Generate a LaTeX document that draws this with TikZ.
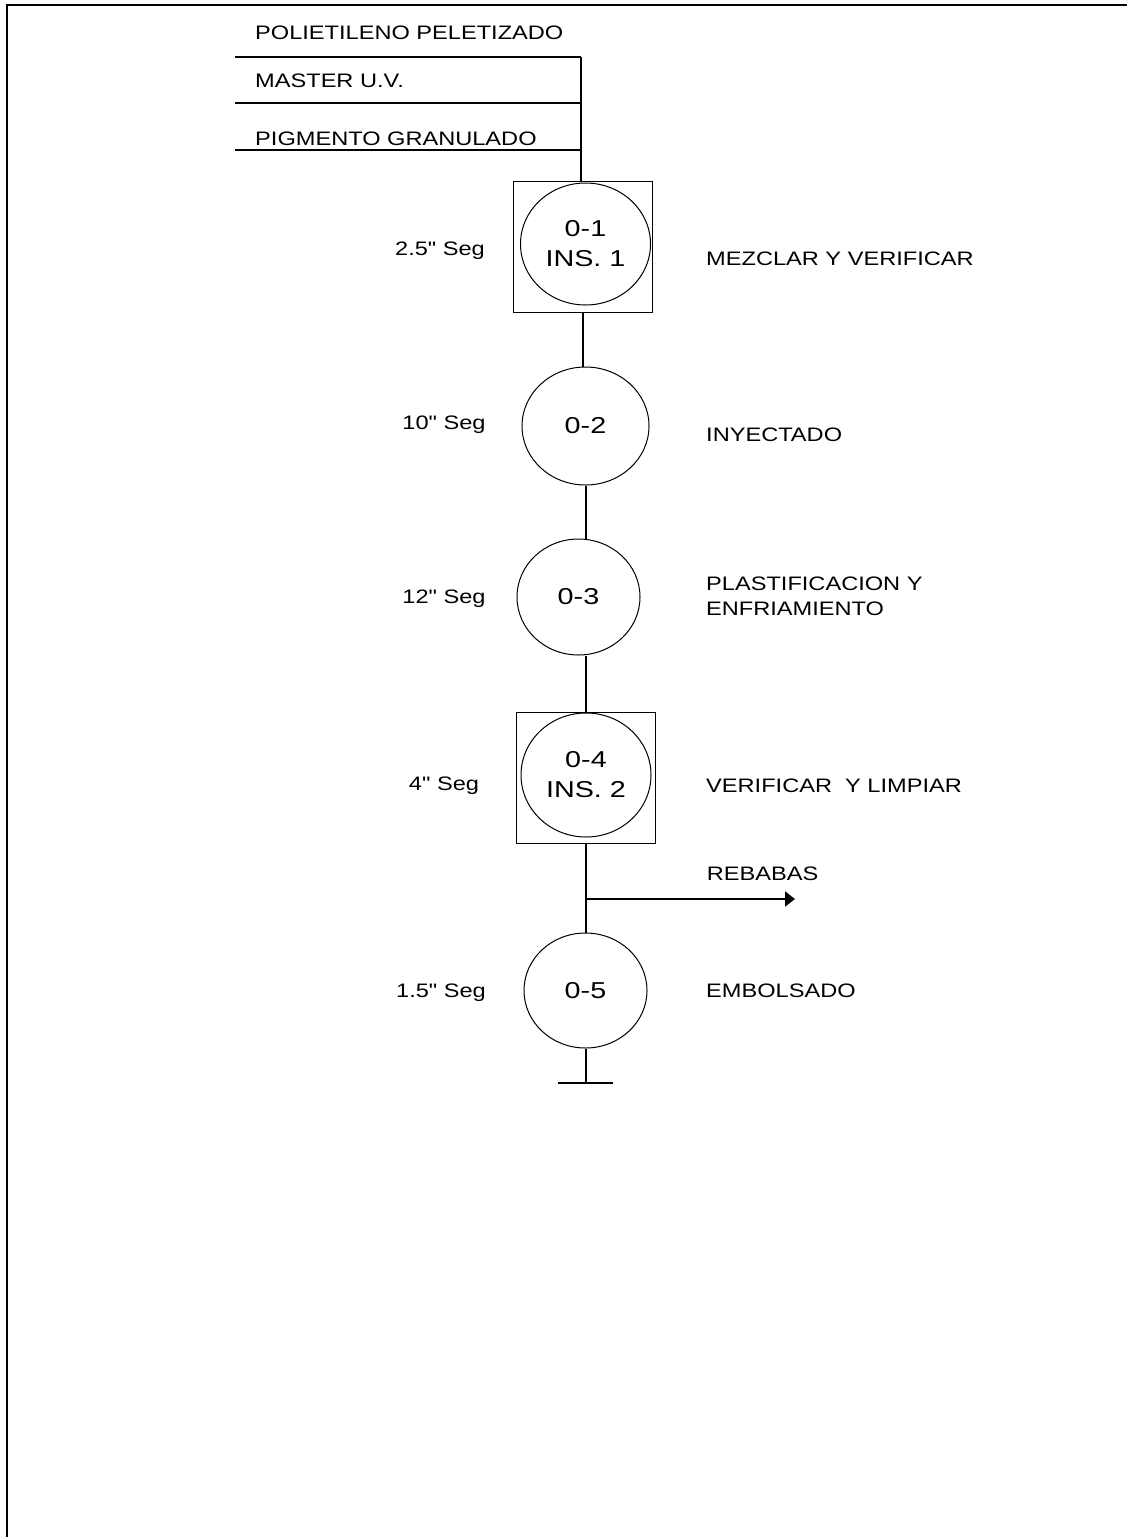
\documentclass[tikz,border=0pt]{standalone}
\usepackage{fontspec}
\usetikzlibrary{shapes.geometric,arrows.meta}
\newfontfamily\labfont[FakeStretch=1.21]{Liberation Sans}
\newfontfamily\numfont[FakeStretch=1.25]{Liberation Sans}
\begin{document}
\begin{tikzpicture}[x=1pt,y=-1pt,
  frameline/.style={line width=2.3pt},
  feed/.style={line width=1.7pt},
  link/.style={line width=2pt},
  outarrow/.style={line width=2pt,-{Triangle[length=10pt,width=15pt]}},
  boxnode/.style={draw,line width=1pt,rectangle,inner sep=0pt},
  opnode/.style={draw,line width=1pt,ellipse,inner sep=0pt,align=center,
    font=\numfont\fontsize{23}{30}\selectfont},
  lab/.style={font=\labfont\fontsize{19.5}{25}\selectfont,inner sep=0pt,
    text height=14pt,text depth=0pt},
  labm/.style={font=\labfont\fontsize{19.5}{25}\selectfont,inner sep=0pt,align=left}
]
\useasboundingbox (0,0) rectangle (1127,1537);
% frame
\coordinate (fbl) at (7,1537);
\coordinate (ftl) at (7,5);
\coordinate (ftr) at (1127,5);
\draw[frameline] (fbl) -- (ftl) -- (ftr);

% boxes and operations
\node[boxnode,minimum width=139,minimum height=131.7] (b1) at (583,246.85) {};
\node[opnode,minimum width=130,minimum height=122] (c1) at (585.5,244) {0-1\\INS. 1};
\node[opnode,minimum width=127,minimum height=118] (c2) at (585.5,426) {0-2};
\node[opnode,minimum width=123,minimum height=116] (c3) at (578.5,597) {0-3};
\node[boxnode,minimum width=139,minimum height=130.3] (b2) at (585.5,777.85) {};
\node[opnode,minimum width=130,minimum height=124] (c4) at (586,775) {0-4\\INS. 2};
\node[opnode,minimum width=123,minimum height=115] (c5) at (585.5,990.5) {0-5};

% inputs
\coordinate (in1) at (235,57);
\coordinate (in2) at (235,103);
\coordinate (in3) at (235,150);
\coordinate (top) at (581,57);
\draw[feed] (in1) -- (top);
\draw[feed] (in2) -- (in2 -| top);
\draw[feed] (in3) -- (in3 -| top);
\draw[link] (top) -- (top |- b1.north);

% connectors
\draw[link] (b1.south) -- (b1.south |- c2.north);
\draw[link] (c2.south) -- (c2.south |- c3.north);
\draw[link] (b2.north) -- (b2.north |- c3.south);
\draw[link] (b2.south) -- (c5.north);
\coordinate (br) at (585.5,899);
\coordinate (rb) at (795,899);
\draw[outarrow] (br) -- (rb);
\coordinate (endp) at (585.5,1083);
\coordinate (tl) at (558,1083);
\coordinate (tr) at (613,1083);
\draw[link] (c5.south) -- (endp);
\draw[link] (tl) -- (tr);

% input labels
\node[lab,anchor=west] (t1) at (255,32.7) {POLIETILENO PELETIZADO};
\node[lab,anchor=west] (t2) at (255,80.7) {MASTER U.V.};
\node[lab,anchor=west] (t3) at (255,138.3) {PIGMENTO GRANULADO};

% times
\node[lab] (s1) at (440,248.5) {2.5" Seg};
\node[lab] (s2) at (444,422.5) {10" Seg};
\node[lab] (s3) at (444,596.3) {12" Seg};
\node[lab] (s4) at (444,783) {4" Seg};
\node[lab] (s5) at (441,990) {1.5" Seg};

% descriptions
\node[lab,anchor=west] (d1) at (706,258.5) {MEZCLAR Y VERIFICAR};
\node[lab,anchor=west] (d2) at (706,434.7) {INYECTADO};
\node[labm,anchor=west] (d3) at (706,596.5) {PLASTIFICACION Y\\ENFRIAMIENTO};
\node[lab,anchor=west] (d4) at (706,785) {VERIFICAR\ \ Y LIMPIAR};
\node[lab,anchor=west] (d5) at (706.7,873.7) {REBABAS};
\node[lab,anchor=west] (d6) at (706,990) {EMBOLSADO};
\end{tikzpicture}
\end{document}
